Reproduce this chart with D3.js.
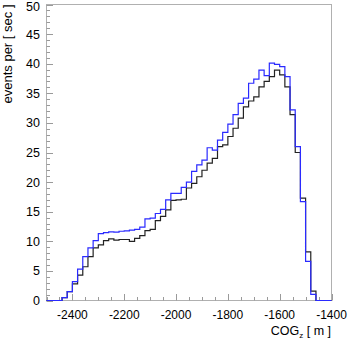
<!DOCTYPE html>
<html><head><meta charset="utf-8">
<script src="https://cdn.jsdelivr.net/npm/d3@7/dist/d3.min.js"></script>
<style>body{margin:0;background:#fff}svg{display:block}text{font-family:"Liberation Sans",Arial,sans-serif}</style>
</head><body><svg id="c" width="349" height="342"></svg>
<script>
const binLow = -2500, binWidth = 20;
const blackSeries = [0,0,0,0.5,1.5,2.8,4.3,5.7,7.4,8.9,9.4,10.1,10.4,10.2,10.3,10.3,10.0,10.5,10.95,11.8,12.0,13.5,14.2,15.3,16.9,17.0,17.1,19.0,19.8,20.9,22.0,23.2,24.0,26.0,26.3,27.7,29.1,30.8,32.7,33.7,34.4,36.1,37.0,37.8,38.9,38.1,36.1,31.4,25.0,17.3,8.2,1.6,0,0,0];
const blueSeries = [0,0,0,0.5,1.5,3.2,5.3,7.4,8.9,10.1,11.3,11.45,11.6,11.55,11.7,11.75,11.9,12.0,12.4,13.8,13.9,14.7,15.4,17.0,18.1,18.1,19.1,20.0,21.8,22.9,23.7,25.8,25.4,27.1,28.4,29.8,31.4,33.3,34.2,36.7,37.4,38.9,38.0,40.1,39.9,39.5,37.8,32.2,26.0,16.7,6.6,1.05,0,0,0];
const xTicks = [-2400,-2200,-2000,-1800,-1600,-1400];
const yTicks = [0,5,10,15,20,25,30,35,40,45,50];

const svg = d3.select("#c");
const x = d3.scaleLinear().domain([-2500,-1400]).range([46.5,331.5]);
const y = d3.scaleLinear().domain([0,50]).range([300.5,4.5]);
const frame = "#9a9a9a";

// frame
svg.append("rect").attr("x",x(-2500)).attr("y",y(50)).attr("width",x(-1400)-x(-2500)).attr("height",y(0)-y(50))
  .attr("fill","none").attr("stroke","#b0b0b0").attr("stroke-width",1);

// y ticks
const yMinor = d3.range(0,50.001,1);
svg.append("g").selectAll("line").data(yMinor).join("line")
  .attr("x1",x(-2500)).attr("x2",d=>x(-2500)+(d%5===0?6.5:3.5))
  .attr("y1",d=>Math.round(y(d))+0.5).attr("y2",d=>Math.round(y(d))+0.5)
  .attr("stroke",frame).attr("stroke-width",1);
svg.append("g").selectAll("text").data(yTicks).join("text")
  .attr("x",40).attr("y",d=>Math.max(y(d),6)).attr("dy","0.36em").attr("text-anchor","end")
  .attr("font-size",12.5).attr("fill","#000").text(d=>d);

// x ticks
const xMinor = d3.range(-2500,-1399,50);
svg.append("g").selectAll("line").data(xMinor).join("line")
  .attr("x1",d=>Math.round(x(d))+0.5).attr("x2",d=>Math.round(x(d))+0.5)
  .attr("y1",y(0)).attr("y2",d=>y(0)-(d%200===0?6.5:3.5))
  .attr("stroke",frame).attr("stroke-width",1);
svg.append("g").selectAll("text").data(xTicks).join("text")
  .attr("x",d=>x(d)).attr("y",318.5).attr("text-anchor","middle")
  .attr("font-size",12).attr("fill","#000").text(d=>"-"+Math.abs(d));

// axis titles
const xt = svg.append("text").attr("x",331).attr("y",335).attr("text-anchor","end").attr("font-size",12.5).attr("fill","#000");
xt.append("tspan").text("COG");
xt.append("tspan").attr("font-size",8).attr("dy",3).text("z");
xt.append("tspan").attr("dy",-3).text(" [ m ]");
svg.append("text").attr("transform","translate(11.5,4.5) rotate(-90)").attr("text-anchor","end")
  .attr("font-size",13).attr("fill","#000").text("events per [ sec ]");

// histograms
function pts(vals){
  const p = vals.map((v,i)=>[binLow+i*binWidth, v]);
  p.push([binLow+vals.length*binWidth, vals[vals.length-1]]);
  return p;
}
const line = d3.line().x(d=>x(d[0])).y(d=>y(d[1])).curve(d3.curveStepAfter);
svg.append("path").attr("d",line(pts(blackSeries))).attr("fill","none").attr("stroke","#222").attr("stroke-width",1.2);
svg.append("path").attr("d",line(pts(blueSeries))).attr("fill","none").attr("stroke","#2a2aff").attr("stroke-width",1.2);
</script></body></html>
